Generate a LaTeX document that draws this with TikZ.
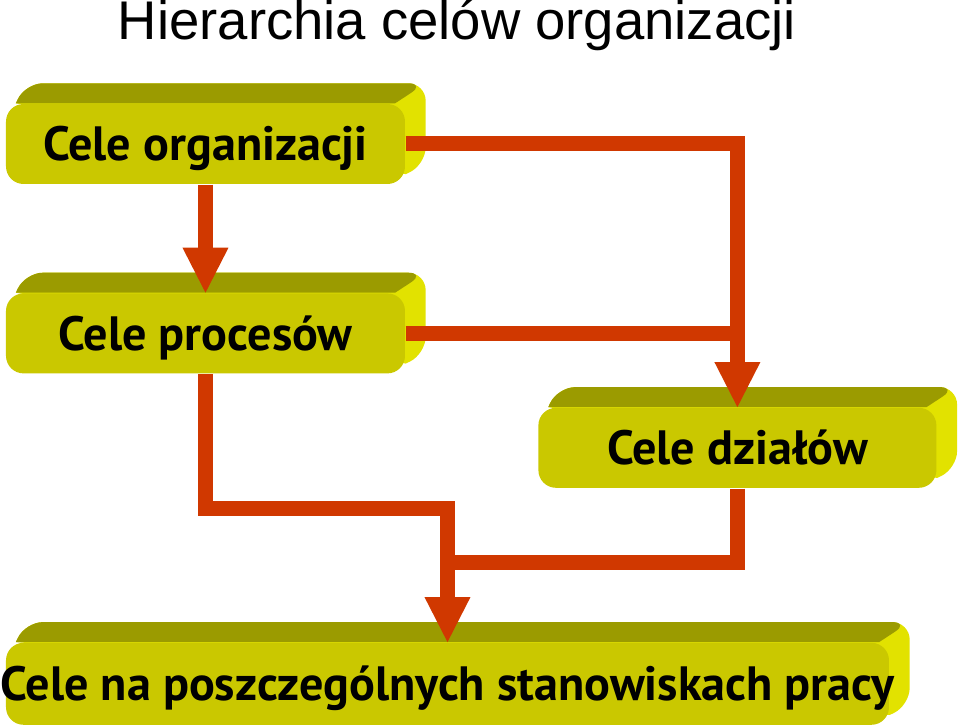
\documentclass[tikz,border=0pt]{standalone}
\usepackage{fontspec}
\usepackage{tikz}
\usetikzlibrary{arrows.meta, positioning, backgrounds}

\newfontfamily\tytulfont{Liberation Sans}
\newfontfamily\ramkafont{PT Sans}

\definecolor{czolo}{RGB}{202,200,0}
\definecolor{wierzch}{RGB}{155,155,0}
\definecolor{bok}{RGB}{226,226,0}
\definecolor{strzalka}{RGB}{208,56,0}

\begin{document}
\begin{tikzpicture}[
  ramka/.style={fill=czolo, rounded corners=5pt, inner sep=0pt, minimum height=0.8cm,
    text height=9.5pt, text depth=0pt, font=\ramkafont\bfseries\fontsize{13.7}{16}\selectfont},
  linia/.style={draw=strzalka, line width=0.15cm},
  strz/.style={linia, -{Triangle[width=0.46cm, length=0.45cm, line width=0pt]}}
]
  \useasboundingbox (0,0) rectangle (9.6,-7.28);

  % Title
  \node[font=\tytulfont\fontsize{15.5}{18}\selectfont, anchor=base] (tytul) at (4.57,-0.40) {Hierarchia celów organizacji};

  % Boxes (front faces)
  \node[ramka, minimum width=3.99cm] (org) at (2.055,-1.44) {Cele organizacji};
  \node[ramka, minimum width=3.99cm, below=1.08cm of org] (proc) {Cele procesów};
  \node[ramka, minimum width=3.98cm, below right=0.33cm and 1.32cm of proc] (dz) {Cele działów};
  \node[ramka, minimum width=8.83cm, minimum height=0.82cm, below=2.68cm of proc.south west, anchor=north west] (stan) {\makebox[0pt]{Cele na poszczególnych stanowiskach pracy}};

  % Depth of the boxes
  \begin{scope}[on background layer]
    \foreach \n in {org, proc, dz, stan} {
      \fill[bok] ([xshift=3pt]\n.north west) [rounded corners=5pt] -- ([shift={(0.2,0.2)}]\n.north west)
        -- ([shift={(0.2,0.2)}]\n.north east) -- ([shift={(0.2,0.2)}]\n.south east) [sharp corners] -- ([yshift=3pt]\n.south east) -- cycle;
      \fill[wierzch] ([xshift=3pt]\n.north west) [rounded corners=5pt] -- ([shift={(0.2,0.2)}]\n.north west)
        -- ([shift={(0.2,0.2)}]\n.north east) [sharp corners] -- ([xshift=-3pt]\n.north east) -- cycle;
    }
  \end{scope}

  % Connectors
  \draw[strz] (org.south) -- (proc.north);
  \draw[strz] (org.east) -| (dz.north);
  \draw[linia] (proc.east) -- (proc.east -| dz.north);
  \draw[strz] (proc.south) -- ++(0,-1.34) -| (stan.north);
  \coordinate (laczenie) at (stan.north |- {(0,-5.63)});
  \draw[linia] (dz.south) |- (laczenie);

\end{tikzpicture}
\end{document}
